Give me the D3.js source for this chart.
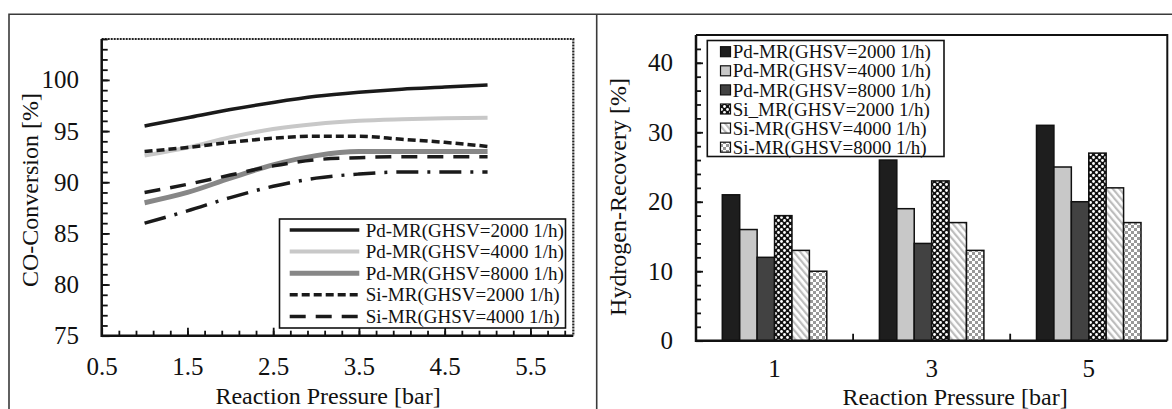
<!DOCTYPE html>
<html>
<head>
<meta charset="utf-8">
<script src="https://cdn.jsdelivr.net/npm/d3@7"></script>
<style>
  body { margin: 0; background: #fff; }
  svg { display: block; font-family: "Liberation Serif", "Times New Roman", serif; }
</style>
</head>
<body>
<div id="chart"></div>
<script>
// ---- left chart data (CO conversion vs pressure) ----
const pressures = [1, 1.5, 2, 2.5, 3, 3.5, 4, 4.5, 5];
const pdMr2000 = [95.5, 96.3, 97.1, 97.8, 98.4, 98.8, 99.1, 99.3, 99.5];
const pdMr4000 = [92.6, 93.4, 94.4, 95.2, 95.7, 96.0, 96.15, 96.25, 96.3];
const pdMr8000 = [88.0, 89.0, 90.4, 91.7, 92.6, 93.0, 93.0, 93.0, 93.0];
const siMr2000 = [93.0, 93.4, 93.9, 94.3, 94.5, 94.5, 94.2, 93.9, 93.5];
const siMr4000 = [89.0, 89.8, 90.7, 91.6, 92.2, 92.4, 92.5, 92.5, 92.5];
const siMr8000 = [86.0, 87.2, 88.5, 89.6, 90.4, 90.8, 91.0, 91.0, 91.0];
const lineLabels = ['Pd-MR(GHSV=2000 1/h)', 'Pd-MR(GHSV=4000 1/h)', 'Pd-MR(GHSV=8000 1/h)',
  'Si-MR(GHSV=2000 1/h)', 'Si-MR(GHSV=4000 1/h)', 'Si-MR(GHSV=8000 1/h)'];
const pressureTicks = [0.5, 1.5, 2.5, 3.5, 4.5, 5.5];
const conversionTicks = [75, 80, 85, 90, 95, 100];

// ---- right chart data (hydrogen recovery) ----
const barCategories = ['1', '3', '5'];
const barLabels = ['Pd-MR(GHSV=2000 1/h)', 'Pd-MR(GHSV=4000 1/h)', 'Pd-MR(GHSV=8000 1/h)',
  'Si_MR(GHSV=2000 1/h)', 'Si-MR(GHSV=4000 1/h)', 'Si-MR(GHSV=8000 1/h)'];
const recPd2000 = [21, 26, 31];
const recPd4000 = [16, 19, 25];
const recPd8000 = [12, 14, 20];
const recSi2000 = [18, 23, 27];
const recSi4000 = [13, 17, 22];
const recSi8000 = [10, 13, 17];
const recoveryTicks = [0, 10, 20, 30, 40];

const cfg = {
  width: 1172, height: 409,
  left: { x0: 101.7, x1: 573.3, y0: 39, y1: 335.7 },
  right: { x0: 696, x1: 1167.3, y0: 35, y1: 340.7 },
  tickFont: 25, titleFont: 24, legendFont: 19
};

const lineStyles = [
  { color: '#1a1a1a', width: 3.5, dash: null },
  { color: '#c8c8c8', width: 4, dash: null },
  { color: '#878787', width: 5, dash: null },
  { color: '#1a1a1a', width: 3.5, dash: '8,4' },
  { color: '#1a1a1a', width: 3.5, dash: '16,10' },
  { color: '#1a1a1a', width: 3.5, dash: '22,9,3,9' }
];
const barFills = ['#1e1e1e', '#c8c8c8', '#424242', 'url(#patSi2000)', 'url(#patSi4000)', 'url(#patSi8000)'];

const svg = d3.select('#chart').append('svg')
  .attr('width', cfg.width)
  .attr('height', cfg.height);

// patterns for the Si bars
const defs = svg.append('defs');
const p1 = defs.append('pattern').attr('id', 'patSi2000').attr('patternUnits', 'userSpaceOnUse')
  .attr('width', 6).attr('height', 6);
p1.append('rect').attr('width', 6).attr('height', 6).attr('fill', '#111');
p1.append('circle').attr('cx', 1.5).attr('cy', 1.5).attr('r', 1.4).attr('fill', '#fff');
p1.append('circle').attr('cx', 4.5).attr('cy', 4.5).attr('r', 1.4).attr('fill', '#fff');
const p2 = defs.append('pattern').attr('id', 'patSi4000').attr('patternUnits', 'userSpaceOnUse')
  .attr('width', 5).attr('height', 5).attr('patternTransform', 'rotate(-40)');
p2.append('rect').attr('width', 5).attr('height', 5).attr('fill', '#fff');
p2.append('rect').attr('width', 2.2).attr('height', 5).attr('fill', '#bdbdbd');
const p3 = defs.append('pattern').attr('id', 'patSi8000').attr('patternUnits', 'userSpaceOnUse')
  .attr('width', 6).attr('height', 6);
p3.append('rect').attr('width', 6).attr('height', 6).attr('fill', '#fff');
p3.append('rect').attr('width', 3).attr('height', 3).attr('fill', '#999');
p3.append('rect').attr('x', 3).attr('y', 3).attr('width', 3).attr('height', 3).attr('fill', '#999');

// outer figure frame
svg.append('path')
  .attr('d', `M9,${cfg.height} V14.3 H${cfg.width}`)
  .attr('fill', 'none').attr('stroke', '#3a3a3a').attr('stroke-width', 1.6);
svg.append('line')
  .attr('x1', 596.7).attr('x2', 596.7).attr('y1', 14.3).attr('y2', cfg.height)
  .attr('stroke', '#3a3a3a').attr('stroke-width', 1.6);

function styleAxis(g, fontSize) {
  g.select('.domain').remove();
  g.selectAll('.tick line').attr('stroke', '#111').attr('stroke-width', 1.8);
  g.selectAll('text').attr('font-size', fontSize).attr('fill', '#111')
    .attr('font-family', '"Liberation Serif", "Times New Roman", serif');
}

// ================= left chart =================
function drawLeft() {
  const b = cfg.left;
  const x = d3.scaleLinear().domain([0.5, 6]).range([b.x0, b.x1]);
  const y = d3.scaleLinear().domain([75, 104]).range([b.y1, b.y0]);

  // dotted frame top/right
  svg.append('path')
    .attr('d', `M${b.x0},${b.y0} H${b.x1} V${b.y1}`)
    .attr('fill', 'none').attr('stroke', '#222').attr('stroke-width', 2.2).attr('stroke-dasharray', '2,1');

  // minor ticks
  svg.append('g').attr('transform', `translate(0,${b.y1})`)
    .call(d3.axisBottom(x).tickValues(d3.range(0.7, 5.95, 0.2)).tickSize(-5).tickFormat(''))
    .call(g => styleAxis(g, cfg.tickFont));
  svg.append('g').attr('transform', `translate(${b.x0},0)`)
    .call(d3.axisLeft(y).tickValues(d3.range(76, 104.5, 1)).tickSize(-6).tickFormat(''))
    .call(g => styleAxis(g, cfg.tickFont));
  // major ticks + labels
  svg.append('g').attr('transform', `translate(0,${b.y1})`)
    .call(d3.axisBottom(x).tickValues(pressureTicks).tickSize(-8).tickSizeOuter(0)
      .tickPadding(21.5).tickFormat(d3.format('.1f')))
    .call(g => styleAxis(g, cfg.tickFont));
  svg.append('g').attr('transform', `translate(${b.x0},0)`)
    .call(d3.axisLeft(y).tickValues(conversionTicks).tickSize(-8).tickSizeOuter(0)
      .tickPadding(22.7).tickFormat(d3.format('d')))
    .call(g => styleAxis(g, cfg.tickFont));

  // axis lines
  svg.append('path')
    .attr('d', `M${b.x0},${b.y0} V${b.y1} H${b.x1}`)
    .attr('fill', 'none').attr('stroke', '#111').attr('stroke-width', 2.5);

  const series = [pdMr2000, pdMr4000, pdMr8000, siMr2000, siMr4000, siMr8000];
  const line = d3.line()
    .x((d, i) => x(pressures[i]))
    .y(d => y(d))
    .curve(d3.curveMonotoneX);
  series.forEach((vals, i) => {
    const s = lineStyles[i];
    svg.append('path')
      .datum(vals)
      .attr('d', line)
      .attr('fill', 'none')
      .attr('stroke', s.color)
      .attr('stroke-width', s.width)
      .attr('stroke-dasharray', s.dash);
  });

  // legend (first five series)
  const lg = { x0: 279.5, x1: 565.5, y0: 219, y1: 328, row0: 230, step: 21.6 };
  svg.append('rect')
    .attr('x', lg.x0).attr('y', lg.y0)
    .attr('width', lg.x1 - lg.x0).attr('height', lg.y1 - lg.y0)
    .attr('fill', '#fff').attr('stroke', '#111').attr('stroke-width', 1.6);
  lineLabels.slice(0, 5).forEach((label, i) => {
    const s = lineStyles[i];
    const ry = lg.row0 + i * lg.step;
    svg.append('line')
      .attr('x1', 289.7).attr('x2', 359.3).attr('y1', ry).attr('y2', ry)
      .attr('stroke', s.color).attr('stroke-width', s.width)
      .attr('stroke-dasharray', s.dash);
    svg.append('text')
      .attr('x', 365.7).attr('y', ry).attr('dy', '0.35em')
      .attr('font-size', cfg.legendFont).attr('fill', '#111')
      .text(label);
  });

  // axis titles
  svg.append('text')
    .attr('x', 328).attr('y', 404)
    .attr('text-anchor', 'middle')
    .attr('font-size', cfg.titleFont).attr('fill', '#111')
    .text('Reaction Pressure [bar]');
  svg.append('text')
    .attr('transform', 'translate(38,190) rotate(-90)')
    .attr('text-anchor', 'middle')
    .attr('font-size', cfg.titleFont).attr('fill', '#111')
    .text('CO-Conversion [%]');
}

// ================= right chart =================
function drawRight() {
  const b = cfg.right;
  const x = d3.scaleBand().domain(barCategories).range([b.x0, b.x1]);
  const pad = 26.3;
  const xInner = d3.scaleBand().domain(barLabels).range([pad, x.bandwidth() - pad]);
  const y = d3.scaleLinear().domain([0, 44]).range([b.y1, b.y0]);

  svg.append('path')
    .attr('d', `M${b.x0},${b.y0} H${b.x1} V${b.y1}`)
    .attr('fill', 'none').attr('stroke', '#111').attr('stroke-width', 2);

  svg.append('g').attr('transform', `translate(${b.x0},0)`)
    .call(d3.axisLeft(y).tickValues(d3.range(2, 44, 2)).tickSize(-5).tickFormat(''))
    .call(g => styleAxis(g, cfg.tickFont));
  svg.append('g').attr('transform', `translate(${b.x0},0)`)
    .call(d3.axisLeft(y).tickValues(recoveryTicks).tickSize(-7).tickSizeOuter(0)
      .tickPadding(23).tickFormat(d3.format('d')))
    .call(g => styleAxis(g, cfg.tickFont));

  // category labels and boundary ticks
  svg.append('g').attr('transform', `translate(0,${b.y1})`)
    .call(d3.axisBottom(x).tickSize(0).tickPadding(18.5))
    .call(g => styleAxis(g, cfg.tickFont));
  svg.append('g')
    .selectAll('line')
    .data(barCategories.slice(1))
    .join('line')
    .attr('x1', d => x(d)).attr('x2', d => x(d))
    .attr('y1', b.y1).attr('y2', b.y1 - 7)
    .attr('stroke', '#111').attr('stroke-width', 1.8);

  const series = [recPd2000, recPd4000, recPd8000, recSi2000, recSi4000, recSi8000];
  series.forEach((vals, si) => {
    svg.append('g')
      .selectAll('rect')
      .data(vals)
      .join('rect')
      .attr('x', (d, ci) => x(barCategories[ci]) + xInner(barLabels[si]))
      .attr('y', d => y(d))
      .attr('width', xInner.bandwidth())
      .attr('height', d => y(0) - y(d))
      .attr('fill', barFills[si])
      .attr('stroke', '#111')
      .attr('stroke-width', 1.5);
  });

  svg.append('path')
    .attr('d', `M${b.x0},${b.y0} V${b.y1} H${b.x1}`)
    .attr('fill', 'none').attr('stroke', '#111').attr('stroke-width', 2.5);

  // legend
  const lg = { x0: 707.3, x1: 944, y0: 40.5, y1: 156.5, row0: 51.7, step: 19.1 };
  svg.append('rect')
    .attr('x', lg.x0).attr('y', lg.y0)
    .attr('width', lg.x1 - lg.x0).attr('height', lg.y1 - lg.y0)
    .attr('fill', '#fff').attr('stroke', '#111').attr('stroke-width', 1.6);
  barLabels.forEach((label, i) => {
    const ry = lg.row0 + i * lg.step;
    svg.append('rect')
      .attr('x', 720.5).attr('y', ry - 5)
      .attr('width', 10).attr('height', 10)
      .attr('fill', barFills[i]).attr('stroke', '#111').attr('stroke-width', 1.2);
    svg.append('text')
      .attr('x', 732.7).attr('y', ry).attr('dy', '0.35em')
      .attr('font-size', cfg.legendFont).attr('fill', '#111')
      .text(label);
  });

  svg.append('text')
    .attr('x', 955).attr('y', 404.5)
    .attr('text-anchor', 'middle')
    .attr('font-size', cfg.titleFont).attr('fill', '#111')
    .text('Reaction Pressure [bar]');
  svg.append('text')
    .attr('transform', 'translate(626,197) rotate(-90)')
    .attr('text-anchor', 'middle')
    .attr('font-size', cfg.titleFont).attr('fill', '#111')
    .text('Hydrogen-Recovery [%]');
}

drawLeft();
drawRight();
</script>
</body>
</html>
